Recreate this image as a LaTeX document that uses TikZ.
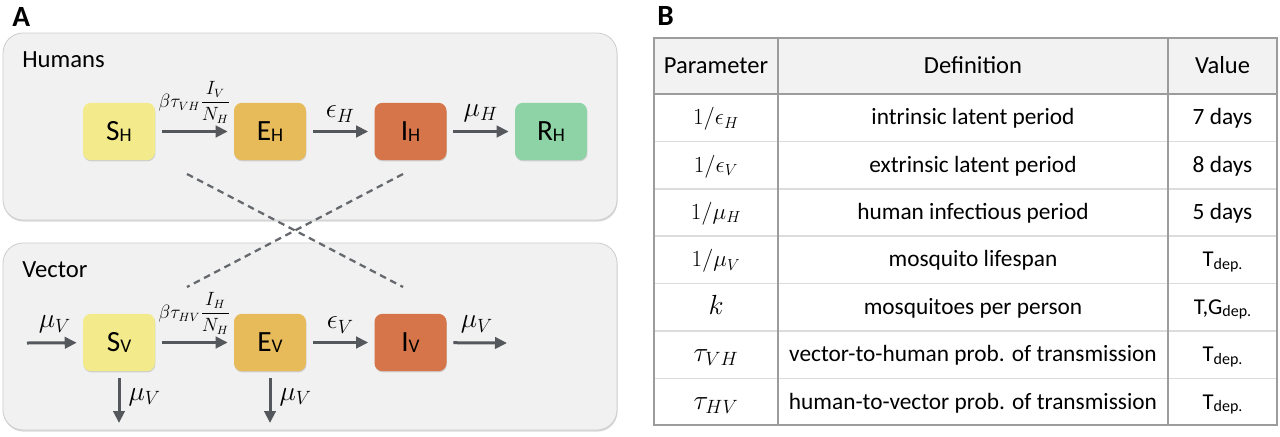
\documentclass[tikz,border=0pt]{standalone}
\usepackage{amsmath,amssymb}
\usepackage[no-math]{fontspec}
\setmainfont{Carlito}
\usetikzlibrary{arrows.meta,shadows}

\definecolor{panelfill}{HTML}{F1F1F1}
\definecolor{panelline}{HTML}{CDCDCD}
\definecolor{arrowgray}{HTML}{54585D}
\definecolor{colS}{HTML}{F3EB8B}
\definecolor{colE}{HTML}{E7BB5A}
\definecolor{colI}{HTML}{D6754A}
\definecolor{colR}{HTML}{8ED3A6}
\definecolor{headfill}{HTML}{F2F2F2}
\definecolor{gridline}{HTML}{9C9C9C}
\definecolor{rowline}{HTML}{DCDCDC}

\newcommand{\cmpt}[2]{{\fontsize{22}{26}\selectfont #1}\raisebox{-0.8pt}{\fontsize{14.5}{17}\selectfont #2}}
\newcommand{\depd}{\raisebox{-1.9pt}{\fontsize{12}{14}\selectfont dep.}}

\tikzset{
  panel/.style={fill=panelfill,draw=panelline,line width=0.6pt,rounded corners=15pt,
    drop shadow={shadow xshift=0.4pt,shadow yshift=-1.2pt,opacity=0.25,fill=black!60}},
  compartment/.style={rectangle,rounded corners=6pt,minimum width=54pt,minimum height=43pt,
    inner sep=0pt,drop shadow={shadow xshift=0.3pt,shadow yshift=-0.9pt,opacity=0.3,fill=black!50}},
  crossline/.style={draw=arrowgray!90,line width=1.7pt,dash pattern=on 5pt off 3.6pt},
  tableline/.style={draw=gridline,line width=0.9pt},
  sublabel/.style={font=\fontsize{22}{26}\selectfont\bfseries,anchor=base west,inner sep=0pt}
}

\begin{document}
\begin{tikzpicture}[x=0.75pt,y=-0.75pt]
\useasboundingbox (0,0) rectangle (1280,436);

% panel A
\node[sublabel] (labA) at (12,26) {A};
\path[panel] (3,33) rectangle (617,220);
\path[panel] (3,243) rectangle (617,430);
\node[anchor=base west,inner sep=0pt,font=\fontsize{18.5}{22}\selectfont] (hum) at (22,67) {Humans};
\node[anchor=base west,inner sep=0pt,font=\fontsize{18.5}{22}\selectfont] (vec) at (22,277) {Vector};

\begin{scope}[every node/.style={compartment}]
    \node[fill=colS] (sH) at (119,131.5) {\cmpt{S}{H}};
    \node[fill=colE] (eH) at (270,131.5) {\cmpt{E}{H}};
    \node[fill=colI] (iH) at (410.5,131.5) {\cmpt{I}{H}};
    \node[fill=colR] (rH) at (551,131.5) {\cmpt{R}{H}};
    \node[fill=colS] (sV) at (119,342.5) {\cmpt{S}{V}};
    \node[fill=colE] (eV) at (270,342.5) {\cmpt{E}{V}};
    \node[fill=colI] (iV) at (410.5,342.5) {\cmpt{I}{V}};
\end{scope}

\coordinate (vIn) at (27,343);
\coordinate (vOut) at (507,343);
\coordinate (sVdown) at (119,423);
\coordinate (eVdown) at (270,423);

\begin{scope}[every node/.style={font=\fontsize{20}{24}\selectfont,inner sep=2pt},
              every edge/.style={draw=arrowgray,line width=2.25pt,
                -{Triangle[length=9pt,width=8.5pt]},shorten <=5pt,shorten >=4.5pt}]
    \path (sH) edge node[above=3pt,font=\fontsize{13.5}{16}\selectfont] (rSEh) {$\beta\tau_{VH}\dfrac{I_V}{N_H}$} (eH);
    \path (eH) edge node[above=4pt] (rEIh) {$\epsilon_H$} (iH);
    \path (iH) edge node[above=4pt] (rIRh) {$\mu_H$} (rH);
    \path (vIn) edge[shorten <=0pt] node[above=4pt] (rInv) {$\mu_V$} (sV);
    \path (sV) edge node[above=3pt,font=\fontsize{13.5}{16}\selectfont] (rSEv) {$\beta\tau_{HV}\dfrac{I_H}{N_H}$} (eV);
    \path (eV) edge node[above=4pt] (rEIv) {$\epsilon_V$} (iV);
    \path (iV) edge[shorten >=0pt] node[above=4pt] (rOutv) {$\mu_V$} (vOut);
    \path (sV) edge[shorten >=0pt] node[right=4pt] (rSdv) {$\mu_V$} (sVdown);
    \path (eV) edge[shorten >=0pt] node[right=4pt] (rEdv) {$\mu_V$} (eVdown);
\end{scope}

% cross infection
\coordinate (xHl) at (187,174);
\coordinate (xHr) at (403,174);
\coordinate (xVl) at (187,287);
\coordinate (xVr) at (403,287);
\draw[crossline] (xHl) -- (xVr);
\draw[crossline] (xHr) -- (xVl);

% panel B
\node[sublabel] (labB) at (657,25) {B};
\fill[headfill] (654,38) rectangle (1277,94);
\foreach \y in {141.4,188.8,236.2,283.6,331,378.4}
    \draw[draw=rowline,line width=1.2pt] (654,\y) -- (1277,\y);
\draw[tableline] (654,94) -- (1277,94);
\draw[tableline] (778,38) -- (778,425);
\draw[tableline] (1168,38) -- (1168,425);
\draw[tableline] (654,38) rectangle (1277,425);

\begin{scope}[every node/.style={anchor=base,inner sep=0pt,font=\fontsize{18.4}{22}\selectfont}]
    \node (hPar) at (716,73) {Parameter};
    \node (hDef) at (973,73) {Definition};
    \node (hVal) at (1222.5,73) {Value};
\end{scope}
\begin{scope}[every node/.style={anchor=base,inner sep=0pt,font=\fontsize{18.5}{22}\selectfont}]
    \node (p1) at (716,124.7) {$1/\epsilon_H$};
    \node (p2) at (716,172.1) {$1/\epsilon_V$};
    \node (p3) at (716,219.5) {$1/\mu_H$};
    \node (p4) at (716,266.9) {$1/\mu_V$};
    \node[font=\fontsize{21.5}{25}\selectfont] (p5) at (716,314.3) {$k$};
    \node[font=\fontsize{21.5}{25}\selectfont] (p6) at (716,361.7) {$\tau_{VH}$};
    \node[font=\fontsize{21.5}{25}\selectfont] (p7) at (716,409.1) {$\tau_{HV}$};
\end{scope}
\begin{scope}[every node/.style={anchor=base,inner sep=0pt,font=\fontsize{17.5}{21}\selectfont}]
    \node (d1) at (973,124.7) {intrinsic latent period};
    \node (d2) at (973,172.1) {extrinsic latent period};
    \node (d3) at (973,219.5) {human infectious period};
    \node (d4) at (973,266.9) {mosquito lifespan};
    \node (d5) at (973,314.3) {mosquitoes per person};
    \node (d6) at (973,361.7) {vector-to-human prob. of transmission};
    \node (d7) at (973,409.1) {human-to-vector prob. of transmission};
    \node (v1) at (1222.5,124.7) {7 days};
    \node (v2) at (1222.5,172.1) {8 days};
    \node (v3) at (1222.5,219.5) {5 days};
    \node[font=\fontsize{17}{20}\selectfont] (v4) at (1222.5,266.9) {T\depd};
    \node[font=\fontsize{17}{20}\selectfont] (v5) at (1222.5,314.3) {T,G\depd};
    \node[font=\fontsize{17}{20}\selectfont] (v6) at (1222.5,361.7) {T\depd};
    \node[font=\fontsize{17}{20}\selectfont] (v7) at (1222.5,409.1) {T\depd};
\end{scope}
\end{tikzpicture}
\end{document}
